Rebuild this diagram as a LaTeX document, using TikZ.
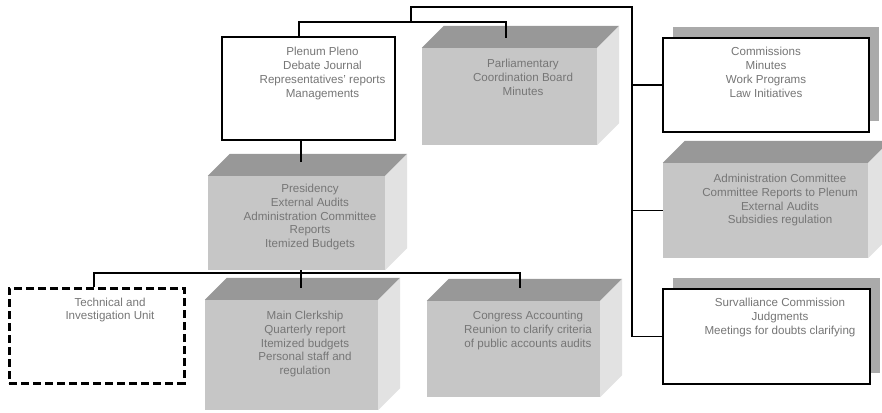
\documentclass[tikz,border=0pt]{standalone}
\usepackage{fontspec}
\setmainfont{Liberation Sans}
\usetikzlibrary{positioning,shadows,patterns}

\definecolor{frontgray}{RGB}{198,198,198}
\definecolor{topgray}{RGB}{152,152,152}
\definecolor{sidegray}{RGB}{226,226,226}
\definecolor{textgray}{RGB}{118,118,118}
\definecolor{shadowgray}{RGB}{170,170,170}

% top and right faces of a solid block
\newcommand{\blockfaces}[1]{%
  \fill[topgray] (#1.north west) -- ++(22,-22) -- ([shift={(22,-22)}]#1.north east) -- (#1.north east) -- cycle;
  \fill[sidegray] (#1.north east) -- ++(22,-22) -- ([shift={(22,-22)}]#1.south east) -- (#1.south east) -- cycle;}

\begin{document}
\begin{tikzpicture}[x=1pt,y=-1pt,
plain box/.style = {draw, fill=white, line width=1.7pt, inner sep=0pt},
solid box/.style = {fill=frontgray, inner sep=0pt},
dashed box/.style = {draw, line width=3pt, dash pattern=on 8pt off 4pt, inner sep=0pt},
shadowed/.style = {general shadow={shadow xshift=10pt, shadow yshift=11pt, fill=shadowgray}},
label text/.style = {align=center, inner sep=0pt, text=textgray, font=\fontsize{11.6}{13.8}\selectfont},
wire/.style = {line width=1.7pt, black}]

\useasboundingbox (0,0) rectangle (882,412);

\node[plain box, minimum width=173, minimum height=103] (plenum) at (308.5,88.5) {};
\node[solid box, minimum width=175, minimum height=97] (parl) at (509.5,96.5) {};
\node[solid box, minimum width=177, minimum height=94] (presid) at (296.5,223) {};
\node[solid box, minimum width=173, minimum height=110] (clerk) at (291.5,355) {};
\node[solid box, minimum width=173, minimum height=96] (congress) at (513.5,349) {};
\node[dashed box, minimum width=175, minimum height=95] (techunit) at (96.5,335.5) {};
\node[plain box, shadowed, minimum width=206, minimum height=94] (commissions) at (766,85) {};
\node[solid box, minimum width=205, minimum height=95] (admin) at (765.5,210.5) {};
\node[plain box, shadowed, minimum width=207, minimum height=95] (surveil) at (766.5,336.5) {};

\blockfaces{parl}
\blockfaces{presid}
\blockfaces{clerk}
\blockfaces{congress}
\blockfaces{admin}

\node[label text, below=11pt of plenum.north, xshift=14pt] (plenumtext) {Plenum Pleno\\Debate Journal\\Representatives' reports\\Managements};
\node[label text, below=11pt of parl.north, xshift=13.5pt] (parltext) {Parliamentary\\Coordination Board\\Minutes};
\node[label text, below=8pt of presid.north, xshift=13.5pt] (presidtext) {Presidency\\External Audits\\Administration Committee\\Reports\\Itemized Budgets};
\node[label text, below=11pt of clerk.north, xshift=13.5pt] (clerktext) {Main Clerkship\\Quarterly report\\Itemized budgets\\Personal staff and\\regulation};
\node[label text, below=10pt of congress.north, xshift=14.5pt] (congresstext) {Congress Accounting\\Reunion to clarify criteria\\of public accounts audits};
\node[label text, below=11pt of techunit.north, xshift=13.5pt] (techtext) {Technical and\\Investigation Unit};
\node[label text, below=10pt of commissions.north] (commtext) {Commissions\\Minutes\\Work Programs\\Law Initiatives};
\node[label text, below=11pt of admin.north, xshift=14.5pt] (admintext) {Administration Committee\\Committee Reports to Plenum\\External Audits\\Subsidies regulation};
\node[label text, below=10pt of surveil.north, xshift=13.5pt] (surveiltext) {Survalliance Commission\\Judgments\\Meetings for doubts clarifying};

\coordinate (top) at (411,7);
\coordinate (mid) at (411,22);
\coordinate (rbus) at (632,7);
\coordinate (parlin) at (506,38);
\coordinate (presidin) at (301,162);
\coordinate (bbus) at (301,273);
\coordinate (clerkin) at (301,288);
\coordinate (congressin) at (520,288);

\draw[wire] ([xshift=-9.5pt]plenum.north) |- (mid) -| (parlin);
\draw[wire] (mid) -- (top) -- (rbus) |- (surveil.west);
\draw[wire] (rbus) |- (commissions.west);
\draw[wire] (rbus) |- (admin.west);
\draw[wire] (presidin) -- (presidin |- plenum.south);
\draw[wire] (presidin |- presid.south) -- (clerkin);
\draw[wire] ([xshift=-2.5pt]techunit.north) |- (bbus) -| (congressin);
\end{tikzpicture}
\end{document}
